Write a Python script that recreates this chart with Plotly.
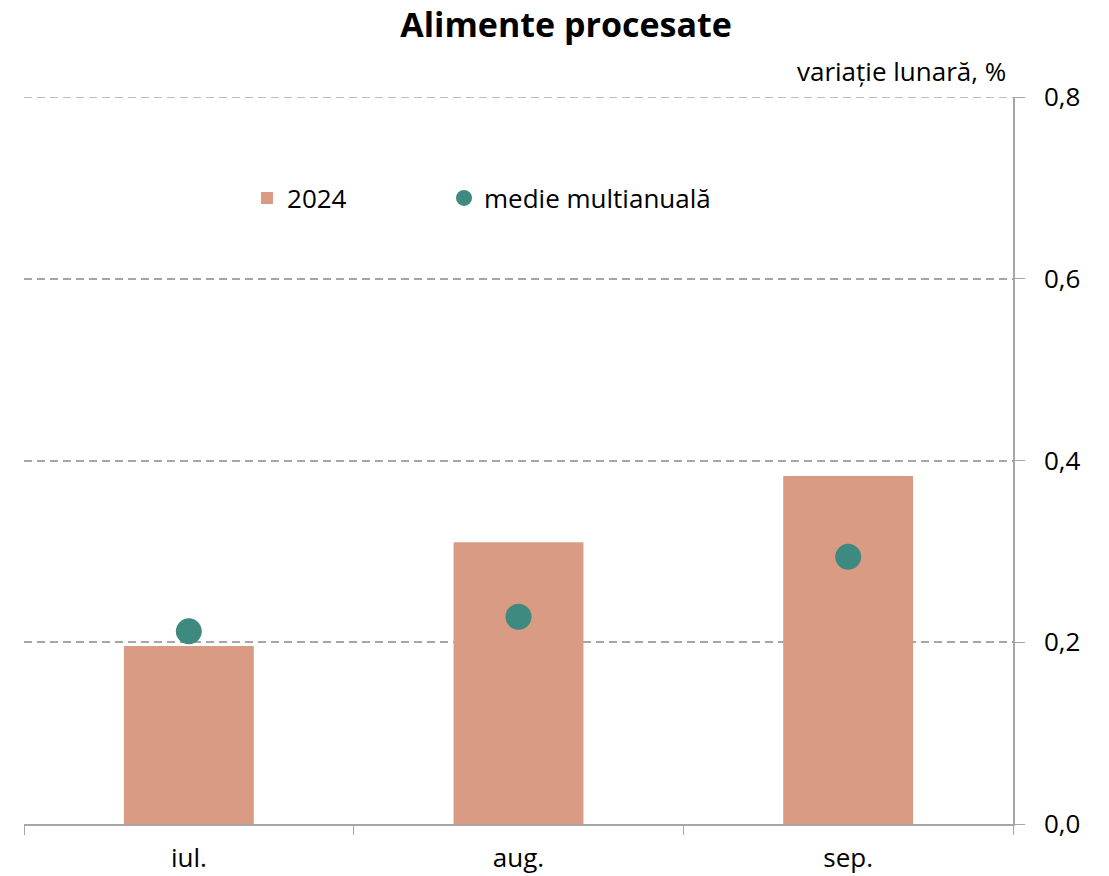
import plotly.graph_objects as go

months = ["iul.", "aug.", "sep."]
val_2024 = [0.196, 0.31, 0.383]
medie = [0.212, 0.228, 0.294]

y_ticks = [0, 0.2, 0.4, 0.6, 0.8]
y_ticklabels = ["0,0", "0,2", "0,4", "0,6", "0,8"]

FONT = "Open Sans, Carlito, Calibri, sans-serif"
BAR_COLOR = "#D99B84"
DOT_COLOR = "#3E8A80"
GRID = "#A6A6A6"

fig = go.Figure()

fig.add_trace(go.Bar(
    x=months, y=val_2024,
    name="2024",
    marker=dict(color=BAR_COLOR, line=dict(width=0)),
    width=0.394,
    legend="legend",
))

fig.add_trace(go.Scatter(
    x=months, y=medie,
    mode="markers",
    name="medie multianuală",
    marker=dict(size=26, color=DOT_COLOR),
    legend="legend2",
))

fig.update_layout(
    width=1109, height=876,
    template="plotly_white",
    paper_bgcolor="white",
    plot_bgcolor="white",
    font=dict(family=FONT, size=26, color="black"),
    title=dict(
        text="<b>Alimente procesate</b>",
        x=0.5104, xanchor="center",
        y=0.971, yanchor="middle",
        font=dict(size=34, family=FONT, color="black"),
    ),
    margin=dict(l=24, r=96, t=97, b=52),
    showlegend=True,
    legend=dict(
        orientation="h",
        x=0.2255, xanchor="left",
        y=0.861, yanchor="middle",
        bgcolor="rgba(0,0,0,0)",
        font=dict(size=26, family=FONT),
    ),
    legend2=dict(
        orientation="h",
        x=0.4247, xanchor="left",
        y=0.861, yanchor="middle",
        bgcolor="rgba(0,0,0,0)",
        font=dict(size=26, family=FONT),
        itemsizing="trace",
    ),
)

fig.update_xaxes(
    type="category",
    showgrid=False,
    showline=True, linecolor=GRID, linewidth=1.5,
    ticks="outside", tickson="boundaries", ticklen=9, tickcolor=GRID,
    tickfont=dict(size=26, family=FONT),
    ticklabelstandoff=10,
    automargin=False,
    zeroline=False,
)

fig.update_yaxes(
    side="right",
    range=[0, 0.8],
    tickvals=y_ticks, ticktext=y_ticklabels,
    showgrid=True, gridcolor=GRID, griddash="8px,5px", gridwidth=1.5,
    showline=True, linecolor=GRID, linewidth=1.5,
    ticks="outside", ticklen=10, tickcolor=GRID,
    tickfont=dict(size=26, family=FONT),
    ticklabelstandoff=14,
    automargin=False,
    zeroline=False,
)

# top gridline sits on the edge of the plot area, draw it explicitly
fig.add_shape(
    type="line", xref="paper", yref="y",
    x0=0, x1=1, y0=y_ticks[-1], y1=y_ticks[-1],
    line=dict(color=GRID, width=1.5, dash="8px,5px"),
    layer="below",
)

fig.add_annotation(
    text="variație lunară, %",
    xref="paper", yref="paper",
    x=0.995, y=1.0, xanchor="right", yanchor="bottom",
    yshift=6,
    showarrow=False,
    font=dict(size=26, family=FONT, color="black"),
)

# drop the default 8px page margin so the figure fills the window exactly
fig.write_html(
    "out.html",
    config={"displayModeBar": False},
    post_script="document.body.style.margin='0';",
)
